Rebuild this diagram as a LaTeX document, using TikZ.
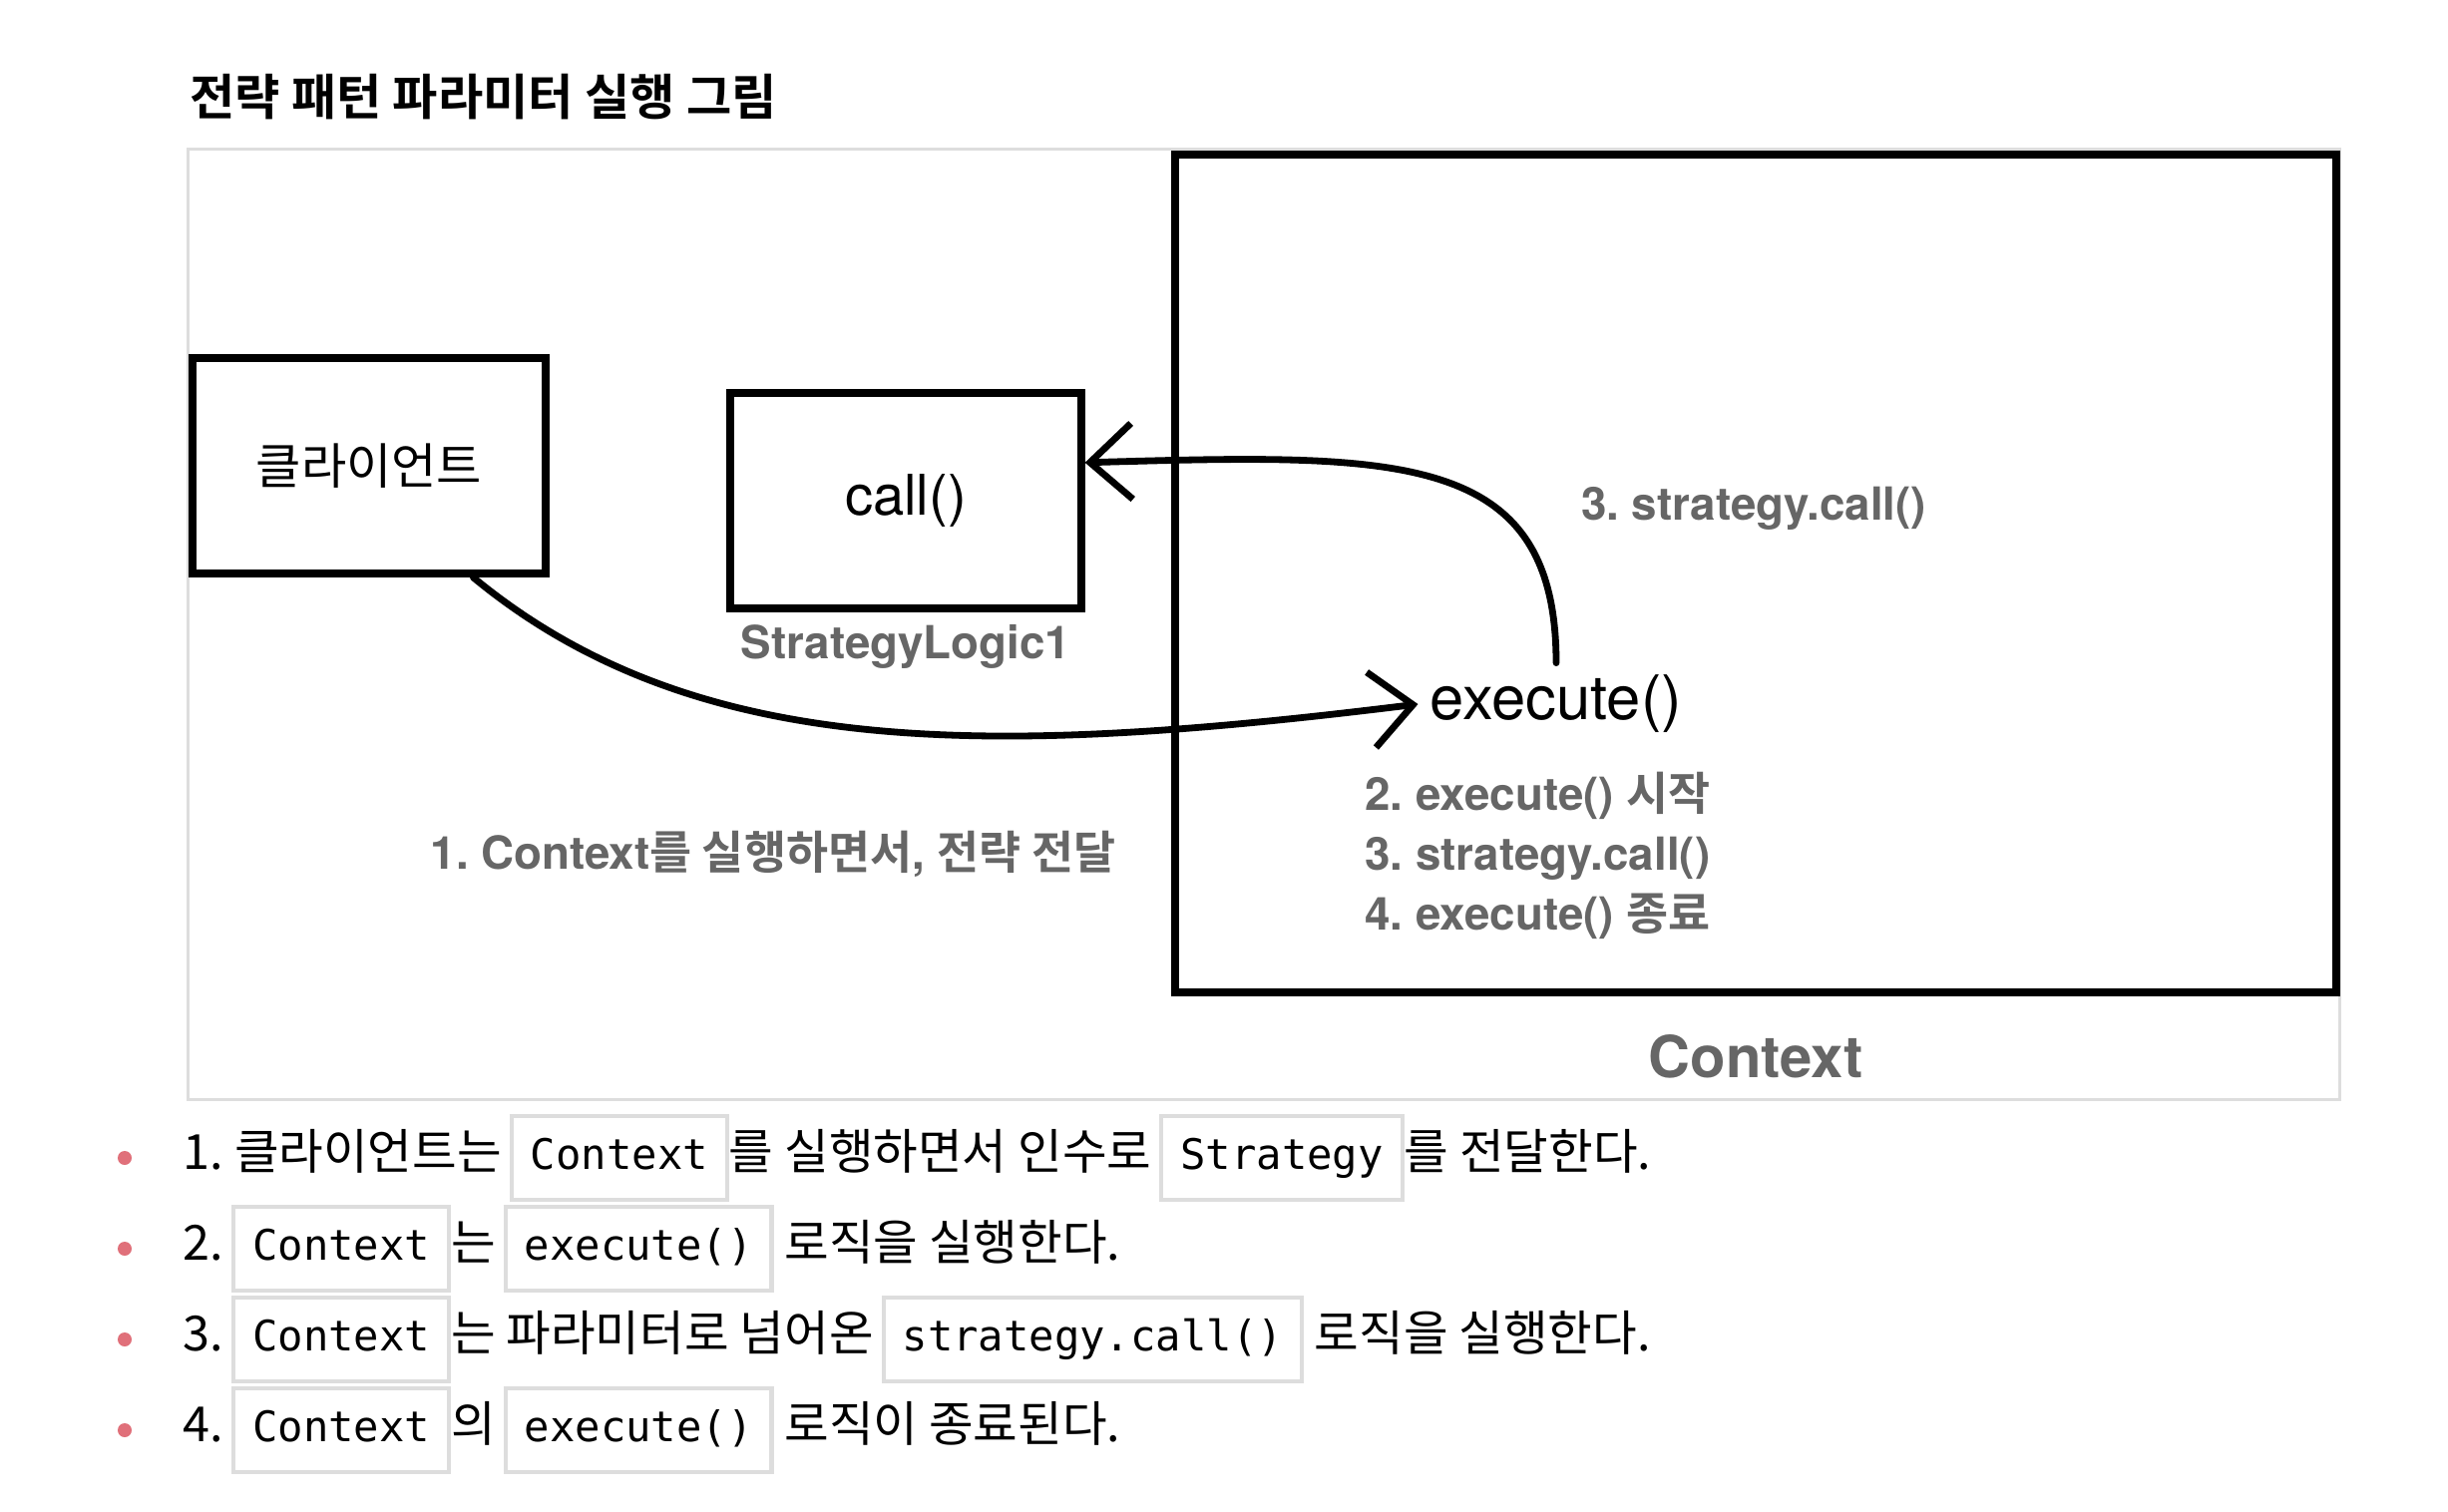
\documentclass[tikz,border=0pt]{standalone}
\usepackage{fontspec}
\setmainfont{TeX Gyre Heros}
\setmonofont{DejaVu Sans Mono}
\newfontfamily\kr{Noto Sans CJK KR}[BoldFont={Noto Sans CJK KR Bold}]
\usepackage{tikz}
\usetikzlibrary{positioning}
\usetikzlibrary{arrows.meta}
\frenchspacing

\definecolor{labelgray}{HTML}{666666}
\definecolor{framegray}{HTML}{DDDDDD}
\definecolor{bulletred}{HTML}{E0707A}

\newcommand{\code}[1]{{\setlength{\fboxsep}{0.12cm}\setlength{\fboxrule}{0.04cm}%
  \fcolorbox{framegray}{white}{\ttfamily\fontsize{12}{16}\selectfont\strut\hspace{0.05cm}#1\hspace{0.05cm}}}}

\begin{document}
\begin{tikzpicture}[x=0.01cm,y=-0.01cm]
\tikzstyle{box}=[rectangle, draw=black, line width=0.08cm]
\tikzstyle{connect}=[-{Straight Barb[length=0.42cm,width=0.76cm]}, line width=0.068cm, line cap=round]
\tikzstyle{labeltext}=[text=labelgray, font=\bfseries\fontsize{13}{17}\selectfont]
\tikzstyle{listline}=[anchor=west, inner sep=0pt, font=\kr\fontsize{13.8}{17}\selectfont]
\tikzstyle{bullet}=[circle, fill=bulletred, inner sep=0pt, minimum size=0.14cm]
\useasboundingbox (0,0) rectangle (2454,1516);

  \node[anchor=west, font=\kr\bfseries\fontsize{14}{17}\selectfont] (title) at (178,97) {전략 패턴 파라미터 실행 그림};
  \draw[framegray, line width=0.03cm] (188,150) rectangle (2345,1102);

  \node[box, minimum width=11.64cm, minimum height=8.39cm,
        label={[labeltext, font=\bfseries\fontsize{16.5}{20}\selectfont, label distance=0.26cm]below:Context}] (context) at (1760,575) {};
  \node[box, minimum width=3.54cm, minimum height=2.16cm] (client) at (370,467) {\kr\fontsize{14}{17}\selectfont 클라이언트};
  \node[box, minimum width=3.51cm, minimum height=2.15cm,
        label={[labeltext]below:StrategyLogic1}] (call) at (908,502) {\fontsize{16}{19}\selectfont call()};

  \node[font=\fontsize{17.5}{20}\selectfont] (execute) at (1560,706) {execute()};
  \node[labeltext] (callstep) at (1758,510) {3. strategy.call()};
  \node[labeltext, anchor=west, align=left] (steps) at (1356,858) {2. execute() {\kr 시작}\\3. strategy.call()\\4. execute() {\kr 종료}};
  \node[labeltext] (passstep) at (775,856) {1. Context{\kr 를 실행하면서}, {\kr 전략 전달}};

  \draw[connect] (client.-47) .. controls (700,765) and (1000,758) .. (execute.west);
  \draw[connect] (execute.north) .. controls (1560,450) and (1400,455) .. (call.12);

  % bullet list
  \foreach \y/\n in {1161/1,1252/2,1343/3,1434/4}
    \node[bullet] (dot\n) at (125,\y) {};
  \node[listline] (item1) at (183,1161) {1. 클라이언트는\,\code{Context}를 실행하면서 인수로\,\code{Strategy}를 전달한다.};
  \node[listline] (item2) at (183,1252) {2.\,\code{Context}는\,\code{execute()} 로직을 실행한다.};
  \node[listline] (item3) at (183,1343) {3.\,\code{Context}는 파라미터로 넘어온\,\code{strategy.call()} 로직을 실행한다.};
  \node[listline] (item4) at (183,1434) {4.\,\code{Context}의\,\code{execute()} 로직이 종료된다.};
\end{tikzpicture}
\end{document}
